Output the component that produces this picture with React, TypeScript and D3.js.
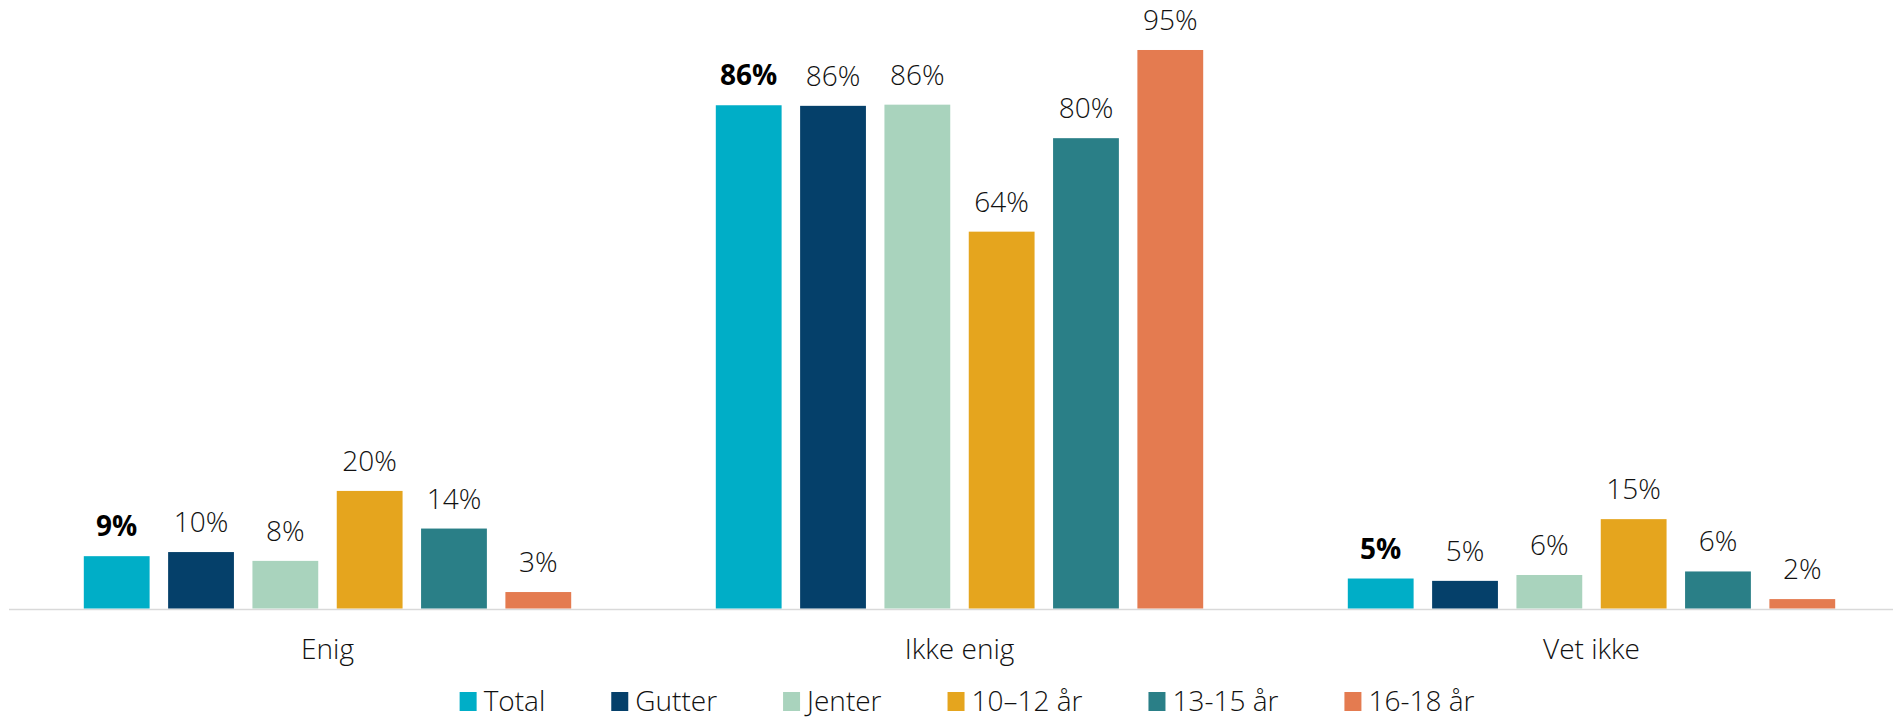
import React, { useEffect, useRef } from "react";
import * as d3 from "d3";

const categories = ["Enig", "Ikke enig", "Vet ikke"];
const seriesNames = ["Total", "Gutter", "Jenter", "10–12 år", "13-15 år", "16-18 år"];
const seriesColors = ["#00AEC7", "#05406A", "#A9D3BD", "#E5A51E", "#2A7F87", "#E47B50"];
const boldSeries = ["Total"];
const valuesTotal = [8.9, 85.6, 5.1];
const valuesGutter = [9.6, 85.5, 4.7];
const valuesJenter = [8.1, 85.7, 5.7];
const values10to12 = [20.0, 64.1, 15.2];
const values13to15 = [13.6, 80.0, 6.3];
const values16to18 = [2.8, 95.0, 1.6];
const seriesValues = [valuesTotal, valuesGutter, valuesJenter, values10to12, values13to15, values16to18];

const W = 1893;
const H = 719;
const FONT = "'Open Sans', 'DejaVu Sans', sans-serif";
const TEXT = "#111111";

export default function App() {
  const ref = useRef<SVGSVGElement | null>(null);

  useEffect(() => {
    const svg = d3.select(ref.current);
    svg.selectAll("*").remove();

    const y = d3.scaleLinear().domain([0, 100]).range([608.5, 608.5 - 587.9]);
    const x0 = d3.scaleBand<string>().domain(categories).range([11.5, 1907.5]).paddingInner(0).paddingOuter(0);
    const inner = 72.3;
    const x1 = d3
      .scaleBand<string>()
      .domain(seriesNames)
      .range([inner, x0.bandwidth() - inner])
      .paddingInner(0.2195)
      .paddingOuter(0);

    const data = categories.flatMap((c, ci) =>
      seriesNames.map((s, si) => ({ c, s, si, v: seriesValues[si][ci] }))
    );

    // axis line
    svg
      .append("line")
      .attr("x1", 9)
      .attr("x2", W)
      .attr("y1", y(0) + 1)
      .attr("y2", y(0) + 1)
      .attr("stroke", "#D9D9D9")
      .attr("stroke-width", 1.5);

    const g = svg.append("g");
    g.selectAll("rect")
      .data(data)
      .join("rect")
      .attr("x", (d) => (x0(d.c) as number) + (x1(d.s) as number))
      .attr("y", (d) => y(d.v))
      .attr("width", x1.bandwidth())
      .attr("height", (d) => y(0) - y(d.v))
      .attr("fill", (d) => seriesColors[d.si]);

    g.selectAll("text.val")
      .data(data)
      .join("text")
      .attr("class", "val")
      .attr("x", (d) => (x0(d.c) as number) + (x1(d.s) as number) + x1.bandwidth() / 2)
      .attr("y", (d) => y(d.v) - 20)
      .attr("text-anchor", "middle")
      .attr("font-family", FONT)
      .attr("font-size", 28)
      .attr("font-weight", (d) => (boldSeries.includes(d.s) ? 700 : 300))
      .attr("fill", (d) => (boldSeries.includes(d.s) ? "#000000" : TEXT))
      .text((d) => `${Math.round(d.v)}%`);

    // category labels
    svg
      .selectAll("text.cat")
      .data(categories)
      .join("text")
      .attr("class", "cat")
      .attr("x", (d) => (x0(d) as number) + x0.bandwidth() / 2)
      .attr("y", 659)
      .attr("text-anchor", "middle")
      .attr("font-family", FONT)
      .attr("font-size", 28)
      .attr("font-weight", 300)
      .attr("fill", TEXT)
      .text((d) => d);

    // legend
    const lg = svg.append("g");
    const sq = 17;
    const gap = 7;
    const spacing = 66;
    const baseY = 711;
    const items = seriesNames.map((s, i) => {
      const ig = lg.append("g");
      ig.append("rect")
        .attr("x", 0)
        .attr("y", baseY - 19)
        .attr("width", sq)
        .attr("height", 19)
        .attr("fill", seriesColors[i]);
      const t = ig
        .append("text")
        .attr("x", sq + gap)
        .attr("y", baseY)
        .attr("font-family", FONT)
        .attr("font-size", 28)
        .attr("font-weight", 300)
        .attr("fill", TEXT)
        .text(s);
      const w = (t.node() as SVGTextElement).getComputedTextLength();
      return { ig, w: sq + gap + w };
    });
    const total = d3.sum(items, (d) => d.w) + spacing * (items.length - 1);
    let cx = 967 - total / 2;
    items.forEach((it) => {
      it.ig.attr("transform", `translate(${cx},0)`);
      cx += it.w + spacing;
    });
  }, []);

  return (
    <svg
      ref={ref}
      width={W}
      height={H}
      style={{ position: "absolute", left: 0, top: 0, background: "#ffffff" }}
    />
  );
}
